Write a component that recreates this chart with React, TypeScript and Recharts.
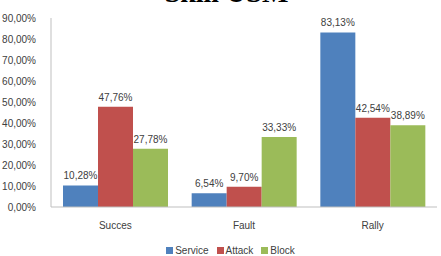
import { BarChart, Bar, XAxis, YAxis, Legend, LabelList } from "recharts";

// categories and series values (percent)
const categories = ["Succes", "Fault", "Rally"];
const service = [10.28, 6.54, 83.13];
const attack = [47.76, 9.7, 42.54];
const block = [27.78, 33.33, 38.89];
const yTicks = [0, 10, 20, 30, 40, 50, 60, 70, 80, 90];

const data = categories.map((name, i) => ({
  name,
  Service: service[i],
  Attack: attack[i],
  Block: block[i],
}));

const FONT = '"Liberation Sans", Arial, sans-serif';
const TEXT = "#404040";

const pct = (v: unknown) => `${Number(v).toFixed(2).replace(".", ",")}%`;

const series = [
  { key: "Service", color: "#4F81BD" },
  { key: "Attack", color: "#C0504D" },
  { key: "Block", color: "#9BBB59" },
];

// legend in series order
function SeriesLegend() {
  return (
    <div
      style={{
        display: "flex",
        justifyContent: "center",
        gap: 8,
        marginTop: 9,
        paddingLeft: 24,
        fontSize: 10,
        lineHeight: "11px",
        color: TEXT,
        fontFamily: FONT,
      }}
    >
      {series.map((s) => (
        <span key={s.key} style={{ display: "flex", alignItems: "center", gap: 2 }}>
          <span style={{ width: 7, height: 7, background: s.color, display: "inline-block" }} />
          {s.key}
        </span>
      ))}
    </div>
  );
}

export default function App() {
  return (
    <div
      style={{
        position: "fixed",
        left: 0,
        top: 0,
        width: 441,
        height: 256,
        background: "#fff",
        overflow: "hidden",
        fontFamily: FONT,
      }}
    >
      {/* title, mostly cut off at the top edge */}
      <div
        style={{
          position: "absolute",
          left: 6,
          width: 441,
          top: -23,
          textAlign: "center",
          fontFamily: '"Liberation Serif", serif',
          fontWeight: 700,
          fontSize: 28,
          lineHeight: "32px",
          color: "#000",
        }}
      >
        Skill USM
      </div>
      <BarChart
        width={441}
        height={256}
        data={data}
        margin={{ top: 18, right: 4, left: 0, bottom: 0 }}
        barGap={0}
        barCategoryGap={12}
      >
        <XAxis
          dataKey="name"
          tickLine={false}
          axisLine={{ stroke: "#bfbfbf" }}
          tick={{ fill: TEXT, fontSize: 10, fontFamily: FONT }}
          height={29}
          tickMargin={9}
        />
        <YAxis
          domain={[0, 90]}
          ticks={yTicks}
          tickFormatter={pct}
          tickLine={false}
          axisLine={{ stroke: "#bfbfbf" }}
          tick={{ fill: TEXT, fontSize: 10, fontFamily: FONT }}
          width={51}
          tickMargin={9}
          interval={0}
        />
        <Legend verticalAlign="bottom" height={20} content={() => <SeriesLegend />} />
        {series.map((s) => (
          <Bar key={s.key} dataKey={s.key} fill={s.color} isAnimationActive={false}>
            <LabelList
              dataKey={s.key}
              position="top"
              offset={6}
              formatter={pct}
              style={{ fill: TEXT, fontSize: 10, fontFamily: FONT }}
            />
          </Bar>
        ))}
      </BarChart>
    </div>
  );
}
